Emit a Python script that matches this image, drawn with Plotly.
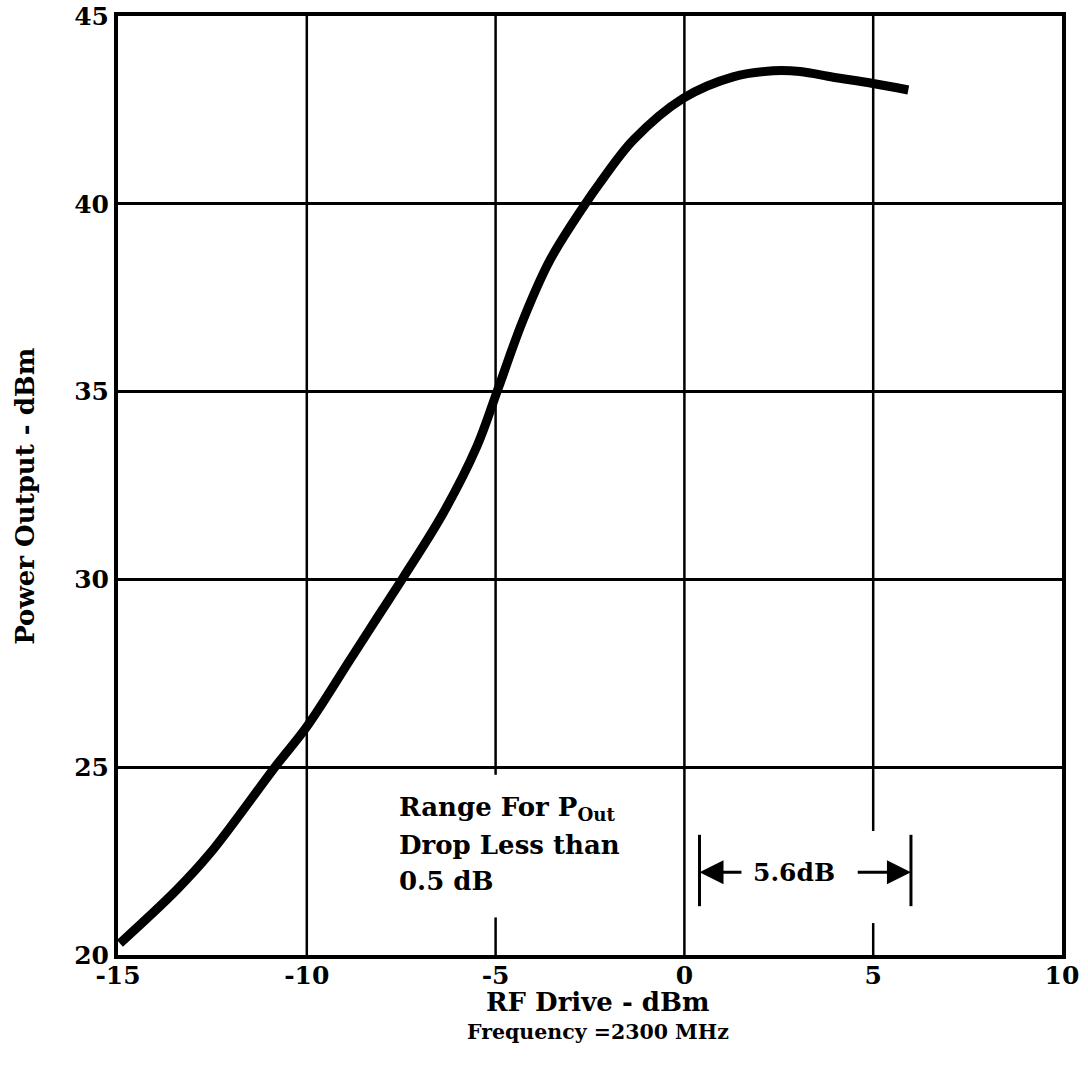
import plotly.graph_objects as go

# Curve data
rf_drive = [-14.95, -13.45, -12.56, -10.80, -10.0, -8.86, -8.15, -7.44, -6.39,
            -5.50, -4.93, -4.27, -3.56, -2.63, -2.24, -1.35, -0.03, 1.29, 2.35,
            3.06, 3.94, 4.96, 5.93]
power_out = [20.31, 21.73, 22.71, 25.06, 26.08, 27.85, 28.96, 30.06, 31.76,
             33.53, 35.09, 36.91, 38.50, 39.99, 40.55, 41.70, 42.81, 43.38, 43.54,
             43.52, 43.37, 43.21, 43.03]

x_ticks = [-15, -10, -5, 0, 5, 10]
y_ticks = [20, 25, 30, 35, 40, 45]

note_lines = ["Range For P<sub>Out</sub>", "Drop Less than", "0.5 dB"]
note_y = [23.91, 22.93, 21.97]

range_low = 0.4
range_high = 6.0

FONT = "DejaVu Serif"
fig = go.Figure()

fig.add_trace(go.Scatter(
    x=rf_drive, y=power_out, mode="lines",
    line=dict(color="black", width=9, shape="spline", smoothing=1.0),
    showlegend=False, hoverinfo="skip"))

# vertical grid lines (with gaps where annotation text sits)
vgrid = [(-10, 20, 45), (0, 20, 45), (-5, 20, 21.0), (-5, 24.8, 45), (5, 20, 20.85), (5, 23.3, 45)]
for gx, y0, y1 in vgrid:
    fig.add_shape(type="line", x0=gx, x1=gx, y0=y0, y1=y1, xref="x", yref="y",
                  line=dict(color="black", width=2.5), layer="below")

# range bars
for bx in (range_low, range_high):
    fig.add_shape(type="line", x0=bx, x1=bx, y0=21.3, y1=23.2, xref="x", yref="y",
                  line=dict(color="black", width=3))

# arrows
fig.add_annotation(x=range_low, y=22.2, ax=1.55, ay=22.2, xref="x", yref="y", axref="x", ayref="y",
                   showarrow=True, arrowhead=2, arrowsize=1.6, arrowwidth=3, arrowcolor="black", text="")
fig.add_annotation(x=range_high, y=22.2, ax=4.55, ay=22.2, xref="x", yref="y", axref="x", ayref="y",
                   showarrow=True, arrowhead=2, arrowsize=1.6, arrowwidth=3, arrowcolor="black", text="")
fig.add_annotation(x=(range_low + range_high) / 2 - 0.3, y=22.2, xref="x", yref="y", showarrow=False,
                   text="<b>5.6dB</b>", font=dict(family=FONT, size=25, color="black"))

for line_text, ly in zip(note_lines, note_y):
    fig.add_annotation(x=-7.61, y=ly, xref="x", yref="y", xanchor="left", yanchor="middle", align="left",
                       showarrow=False, text="<b>" + line_text + "</b>",
                       font=dict(family=FONT, size=26, color="black"))

# axis titles and caption
fig.add_annotation(x=0.5, y=0, xref="paper", yref="paper", yanchor="middle", yshift=-47, xshift=7,
                   showarrow=False, text="<b>RF Drive - dBm</b>",
                   font=dict(family=FONT, size=26, color="black"))
fig.add_annotation(x=0.5, y=0, xref="paper", yref="paper", yanchor="middle", yshift=-77, xshift=8,
                   showarrow=False, text="<b>Frequency =2300 MHz</b>",
                   font=dict(family=FONT, size=20.5, color="black"))
fig.add_annotation(x=0, y=0.488, xref="paper", yref="paper", xanchor="center", yanchor="middle",
                   xshift=-93, textangle=-90, showarrow=False, text="<b>Power Output - dBm</b>",
                   font=dict(family=FONT, size=26, color="black"))

axis_common = dict(showline=True, linecolor="black", linewidth=4, mirror=True,
                   zeroline=False, ticks="", automargin=False, ticklabeloverflow="allow",
                   tickfont=dict(family=FONT, size=25, color="black", weight="bold"))

fig.update_xaxes(range=[-15, 10], tickvals=x_ticks, ticktext=[str(v) for v in x_ticks],
                 showgrid=False, ticklabelstandoff=-5, **axis_common)
fig.update_yaxes(range=[20, 45], tickvals=y_ticks, showgrid=True, gridcolor="black", gridwidth=2.5,
                 **axis_common)

fig.update_layout(width=1088, height=1078, margin=dict(l=118, r=26, t=16, b=123),
                  plot_bgcolor="white", paper_bgcolor="white")

# remove the default 8px page margin so the figure fills the window exactly; no modebar
fig.write_html("out.html", config={"displayModeBar": False},
               post_script="document.body.style.margin='0';")
